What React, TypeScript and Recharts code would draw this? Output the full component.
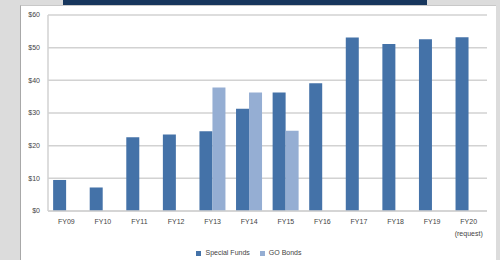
import React from "react";
import { Bar, BarChart, CartesianGrid, Legend, XAxis, YAxis } from "recharts";

const years = ["FY09", "FY10", "FY11", "FY12", "FY13", "FY14", "FY15", "FY16", "FY17", "FY18", "FY19", "FY20"];
const specialFunds = [9.5, 7.2, 22.6, 23.4, 24.4, 31.3, 36.3, 39.1, 53.1, 51.1, 52.6, 53.2];
const goBonds = [null, null, null, null, 37.8, 36.3, 24.6, null, null, null, null, null];
const yTicks = [0, 10, 20, 30, 40, 50, 60];

const data = years.map((y, i) => ({ name: y, special: specialFunds[i], go: goBonds[i] }));

const FONT = "'Liberation Sans', Arial, sans-serif";
const seriesOrder: Record<string, number> = { special: 0, go: 1 };

const XTick = (props: any) => {
  const { x, y, payload } = props;
  const isLast = payload.value === "FY20";
  return (
    <g transform={`translate(${x},${y})`}>
      <text x={0} y={0} dy={5} textAnchor="middle" fill="#444" fontSize={7} fontFamily={FONT}>
        {payload.value}
      </text>
      {isLast && (
        <text x={0} y={0} dy={17} textAnchor="middle" fill="#444" fontSize={7} fontFamily={FONT}>
          (request)
        </text>
      )}
    </g>
  );
};

export default function App() {
  return (
    <div style={{ position: "absolute", left: 0, top: 0, width: 500, height: 260, background: "#dcdcdc", overflow: "hidden" }}>
      <div style={{ position: "absolute", left: 63, top: 0, width: 364, height: 5, background: "#17365d" }} />
      <div
        style={{
          position: "absolute",
          left: 20,
          top: 5,
          width: 476,
          height: 255,
          background: "#fff",
          borderLeft: "1px solid #a8a8a8",
          borderTop: "1px solid #c8c8c8",
          boxSizing: "border-box",
        }}
      >
        <BarChart
          width={475}
          height={254}
          data={data}
          margin={{ top: 9, right: 9, left: 0, bottom: 0 }}
          barCategoryGap="14%"
          barGap={0}
        >
          <CartesianGrid vertical={false} stroke="#d2d2d2" strokeWidth={1.5} />
          <XAxis
            dataKey="name"
            tick={<XTick />}
            tickLine={false}
            axisLine={{ stroke: "#d2d2d2", strokeWidth: 1.5 }}
            interval={0}
            height={37}
          />
          <YAxis
            domain={[0, 60]}
            ticks={yTicks}
            tickFormatter={(v: number) => `$${v}`}
            tick={{ fill: "#444", fontSize: 7, fontFamily: FONT }}
            tickLine={false}
            tickSize={0}
            tickMargin={8}
            axisLine={{ stroke: "#d2d2d2", strokeWidth: 1.5 }}
            width={27}
          />
          <Legend
            verticalAlign="bottom"
            align="center"
            iconType="square"
            iconSize={5}
            height={12}
            itemSorter={(item: any) => seriesOrder[item.dataKey] ?? 0}
            formatter={(value: string) => <span style={{ color: "#444" }}>{value}</span>}
            wrapperStyle={{ fontSize: 7, fontFamily: FONT, lineHeight: "10px" }}
          />
          <Bar dataKey="special" name="Special Funds" fill="#4472a8" isAnimationActive={false} />
          <Bar dataKey="go" name="GO Bonds" fill="#95aed3" isAnimationActive={false} />
        </BarChart>
      </div>
    </div>
  );
}
